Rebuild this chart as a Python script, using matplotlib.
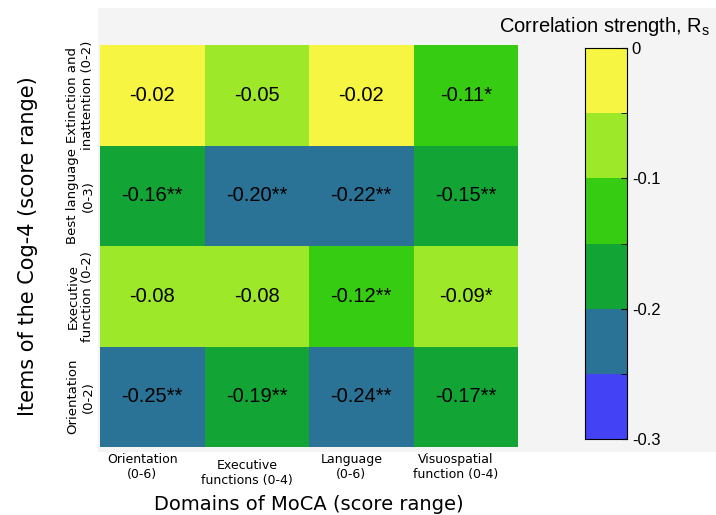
import numpy as np
import matplotlib
matplotlib.use("Agg")
import matplotlib.pyplot as plt
import matplotlib.transforms as mtransforms
from matplotlib.colors import ListedColormap, BoundaryNorm
from matplotlib.patches import Rectangle

# Data (rows top -> bottom, Cog-4 items; columns MoCA domains)
row_labels = ["Extinction and\ninattention (0-2)", "Best language\n(0-3)",
              "Executive\nfunction (0-2)", "Orientation\n(0-2)"]
col_labels = ["Orientation\n(0-6)", "Executive\nfunctions (0-4)",
              "Language\n(0-6)", "Visuospatial\nfunction (0-4)"]
rs_values = [
    [-0.02, -0.051, -0.02, -0.11],
    [-0.16, -0.201, -0.22, -0.151],
    [-0.08, -0.08, -0.12, -0.09],
    [-0.248, -0.19, -0.24, -0.17],
]
stars = [
    ["", "", "", "*"],
    ["**", "**", "**", "**"],
    ["", "", "**", "*"],
    ["**", "**", "**", "**"],
]
levels = [-0.3, -0.25, -0.2, -0.15, -0.1, -0.05, 0]
level_colors = ["#4343f5", "#2a7296", "#12a535", "#36cc12", "#9ee82a", "#f6f542"]
cbar_ticks = [0, -0.1, -0.2, -0.3]

W, H = 716, 515
fig = plt.figure(figsize=(W / 100, H / 100), dpi=100)
fig.patch.set_facecolor("white")


def box(x0, y0, x1, y1):
    # pixel box (top-left origin) -> figure fraction rect
    return [x0 / W, 1 - y1 / H, (x1 - x0) / W, (y1 - y0) / H]


# light grey panel behind heatmap and colour bar
bg = fig.add_axes(box(98, 8, 716, 452))
bg.set_facecolor("#f4f4f4")
bg.set_xticks([])
bg.set_yticks([])
for s in bg.spines.values():
    s.set_visible(False)

cmap = ListedColormap(level_colors)
norm = BoundaryNorm(levels, cmap.N)

ax = fig.add_axes(box(100, 45, 518, 447))
data = np.array(rs_values)
ax.pcolormesh(data, cmap=cmap, norm=norm)
ax.set_xlim(0, 4)
ax.set_ylim(4, 0)
for s in ax.spines.values():
    s.set_visible(False)

for i in range(4):
    for j in range(4):
        ax.text(j + 0.5, i + 0.5, f"{data[i, j]:.2f}{stars[i][j]}",
                ha="center", va="center", fontsize=14.5,
                family="Liberation Sans", color="black")

ax.set_xticks(np.arange(4) + 0.5)
ax.set_xticklabels(col_labels, fontsize=9)
ax.set_yticks(np.arange(4) + 0.5)
ax.set_yticklabels(row_labels, fontsize=9.5, rotation=90, va="center",
                   multialignment="center")
ax.tick_params(length=0, pad=4)
# x tick labels sit a little left of the cell centres in the original
shift = mtransforms.ScaledTranslation(-10 / 100, 0, fig.dpi_scale_trans)
for k, lab in enumerate(ax.get_xticklabels()):
    lab.set_transform(lab.get_transform() + shift)
    if k == 1:
        lab.set_transform(lab.get_transform() +
                          mtransforms.ScaledTranslation(0, -6 / 100, fig.dpi_scale_trans))
ax.set_xlabel("Domains of MoCA (score range)", fontsize=14, labelpad=6)
ax.set_ylabel("Items of the Cog-4 (score range)", fontsize=15)
ax.yaxis.set_label_coords(-(100 - 38) / 418, 0.5)

# discrete colour bar
cax = fig.add_axes(box(585, 48, 627, 439))
for k in range(len(level_colors)):
    cax.add_patch(Rectangle((0, levels[k]), 1, levels[k + 1] - levels[k],
                            facecolor=level_colors[k], edgecolor="none"))
cax.set_xlim(0, 1)
cax.set_ylim(-0.3, 0)
cax.set_xticks([])
cax.yaxis.tick_right()
cax.set_yticks(levels, minor=True)
cax.set_yticks(cbar_ticks)
cax.set_yticklabels(["0", "-0.1", "-0.2", "-0.3"], family="Liberation Sans")
cax.tick_params(axis="y", which="major", labelsize=12, length=4, direction="in")
cax.tick_params(axis="y", which="minor", length=4, direction="in")
for s in cax.spines.values():
    s.set_linewidth(0.8)

fig.text(605 / W, 1 - 27 / H, "Correlation strength, R$_\\mathregular{s}$",
         ha="center", va="center", fontsize=14.5, family="Liberation Sans")

fig.savefig("out.png", dpi=100)
